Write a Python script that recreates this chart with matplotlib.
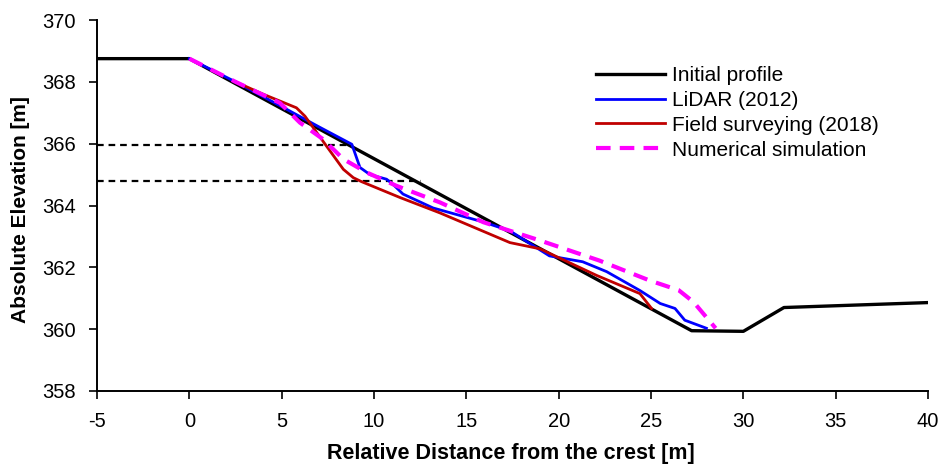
import matplotlib
matplotlib.use("Agg")
import matplotlib.pyplot as plt

plt.rcParams['font.family'] = ['Liberation Sans', 'DejaVu Sans']

# Initial profile
init_x = [-5, 0, 27.2, 30.0, 32.2, 40]
init_y = [368.75, 368.75, 359.95, 359.93, 360.7, 360.86]

# LiDAR (2012)
lidar_x = [0, 2.5, 5.0, 7.0, 8.8, 9.24, 9.78, 10.68, 11.0, 11.57, 13.2, 15.9, 17.36,
           19.5, 21.3, 22.6, 24.4, 25.5, 26.3, 26.83, 28.0]
lidar_y = [368.75, 368.0, 367.2, 366.55, 365.98, 365.23, 365.0, 364.85, 364.7, 364.37, 363.92,
           363.47, 363.18, 362.37, 362.18, 361.86, 361.25, 360.83, 360.67, 360.29, 360.03]

# Field surveying (2018)
field_x = [2.5, 4.0, 5.8, 6.26, 7.43, 8.34, 8.88, 9.33, 11.4, 13.57, 17.36, 18.98, 22.05, 24.4, 25.03]
field_y = [368.0, 367.6, 367.16, 366.89, 365.92, 365.17, 364.9, 364.77, 364.26, 363.76, 362.8,
           362.6, 361.74, 361.15, 360.67]

# Numerical simulation
num_x = [0, 2.5, 4.9, 5.99, 7.25, 8.34, 9.6, 11.2, 13.57, 15.92, 18.98, 22.2, 24.9, 26.5, 27.3, 28.5]
num_y = [368.75, 368.0, 367.32, 366.68, 366.14, 365.5, 365.07, 364.64, 364.1, 363.46, 362.87,
         362.22, 361.58, 361.26, 360.88, 360.03]

# Reference dashed levels
level_y = [365.97, 364.78]
level_xend = [8.8, 12.55]

xticks = [-5, 0, 5, 10, 15, 20, 25, 30, 35, 40]
yticks = [358, 360, 362, 364, 366, 368, 370]

fig = plt.figure(figsize=(9.41, 4.66), dpi=100)
ax = fig.add_axes([97/941, 1 - 391/466, (928-97)/941, (391-20)/466])

for yv, xe in zip(level_y, level_xend):
    ax.plot([-5, xe], [yv, yv], color='black', lw=1.6, ls=(0, (3, 2.2)), zorder=2)

ax.plot(init_x, init_y, color='black', lw=2.4, label='Initial profile', zorder=3)
ax.plot(lidar_x, lidar_y, color='#0000FF', lw=2.0, label='LiDAR (2012)', zorder=4)
ax.plot(field_x, field_y, color='#C00000', lw=2.0, label='Field surveying (2018)', zorder=4)
ax.plot(num_x, num_y, color='#FF00FF', lw=3.0, ls=(0, (3.5, 2.2)), label='Numerical simulation', zorder=5)

ax.set_xlim(-5, 40)
ax.set_ylim(358, 370)
ax.set_xticks(xticks)
ax.set_yticks(yticks)
ax.set_xticklabels([str(t) for t in xticks])
ax.set_yticklabels([str(t) for t in yticks])
ax.tick_params(axis='both', direction='out', length=6, width=1.2, labelsize=14.5)
ax.tick_params(axis='x', pad=9)
ax.tick_params(axis='y', pad=9)
for s in ['top', 'right']:
    ax.spines[s].set_visible(False)
for s in ['left', 'bottom']:
    ax.spines[s].set_linewidth(1.4)

fig.text(511/941, 1 - 454/466, 'Relative Distance from the crest [m]', fontsize=15.5, fontweight='bold',
         ha='center', va='center')
fig.text(21/941, 1 - 210/466, 'Absolute Elevation [m]', fontsize=15, fontweight='bold',
         ha='center', va='center', rotation=90)

leg = ax.legend(loc='upper left', bbox_to_anchor=(596/941, 1 - 66/466), bbox_transform=fig.transFigure,
                frameon=False, fontsize=15, handlelength=3.3, handletextpad=0.35,
                labelspacing=0.28, borderpad=0, borderaxespad=0)

fig.savefig('out.png', dpi=100)
